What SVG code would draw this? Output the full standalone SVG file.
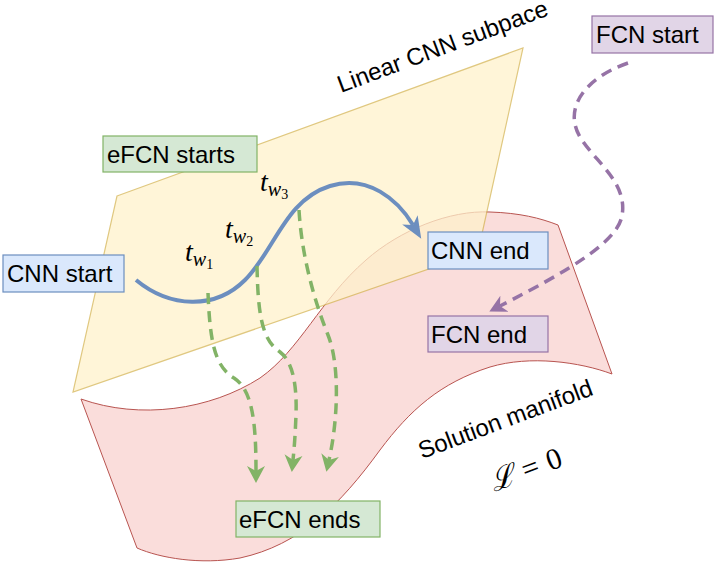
<svg xmlns="http://www.w3.org/2000/svg" width="720" height="568" viewBox="0 0 720 568">
<defs>
<style>
.lbl{font-family:"Liberation Sans",Arial,sans-serif;font-size:24px;fill:#000}
.blue{fill:#dae8fc;stroke:#6c8ebf;stroke-width:1.2}
.green{fill:#d5e8d4;stroke:#82b366;stroke-width:1.2}
.purple{fill:#e1d5e7;stroke:#9673a6;stroke-width:1.2}
.math{font-family:"Liberation Serif","DejaVu Serif",serif;font-style:italic;fill:#000}
.gd{fill:none;stroke:#82b366;stroke-width:3.5;stroke-dasharray:11 7}
</style>
<marker id="ab" markerUnits="userSpaceOnUse" markerWidth="24" markerHeight="20" viewBox="0 0 24 20" refX="6" refY="10" orient="auto">
<path d="M0,1 L22,10 L0,19 L6,10 Z" fill="#6c8ebf"/>
</marker>
<marker id="ag" markerUnits="userSpaceOnUse" markerWidth="18" markerHeight="20" viewBox="0 0 18 20" refX="5" refY="10" orient="auto">
<path d="M0,1 L17,10 L0,19 L5,10 Z" fill="#82b366"/>
</marker>
<marker id="ap" markerUnits="userSpaceOnUse" markerWidth="18" markerHeight="20" viewBox="0 0 18 20" refX="5" refY="10" orient="auto">
<path d="M0,1 L17,10 L0,19 L5,10 Z" fill="#9673a6"/>
</marker>
</defs>
<rect width="720" height="568" fill="#ffffff"/>
<g id="manifold">
<path d="M81,399 C140,420 210,410 260,378 C300,350 320,300 366,260 C400,230 450,210 490,212 C520,213 540,218 558,225 L612,374 C580,362 530,355 490,367 C440,383 410,410 380,450 C340,505 300,545 240,558 C200,565 160,558 137,548 Z" fill="#f8cecc" fill-opacity="0.7" stroke="#b85450" stroke-width="1"/>
</g>
<g id="subspace" opacity="0.75">
<path d="M117,196 L523,48 L478,252 L73,392 Z" fill="#fff2cc" stroke="#d6b656" stroke-width="1.2"/>
</g>
<text class="lbl" transform="translate(341,93) rotate(-20.5)">Linear CNN subpace</text>
<text class="lbl" transform="translate(422,459) rotate(-20.5)">Solution manifold</text>
<text class="math" font-size="30" transform="translate(494,492) rotate(-20.5)">ℒ<tspan font-style="normal" dx="9">=</tspan><tspan font-style="normal" dx="9">0</tspan></text>
<g id="connectors">
<path d="M136,280 C170,308 215,310 245,280 C275,250 285,200 330,186 C368,174 398,200 413,225" fill="none" stroke="#6c8ebf" stroke-width="4" marker-end="url(#ab)"/>
<path class="gd" d="M208,293 C210,340 214,366 234,378 C252,390 256,420 256,471" marker-end="url(#ag)"/>
<path class="gd" d="M257,266 C258,315 262,340 280,352 C293,362 297,385 296,415 C295,440 294,450 293,460" marker-end="url(#ag)"/>
<path class="gd" d="M299,210 C302,260 316,305 328,335 C340,365 338,420 329,460" marker-end="url(#ag)"/>
<path d="M628,63 C585,78 563,108 580,137 C595,162 628,182 622,216 C617,242 570,270 500,306" fill="none" stroke="#9673a6" stroke-width="3.5" stroke-dasharray="11 7" marker-end="url(#ap)"/>
</g>
<g id="tw1"><text class="math" x="185" y="261" font-size="28">t<tspan font-size="20" dy="5">w</tspan><tspan font-style="normal" font-size="14" dy="3">1</tspan></text></g>
<g id="tw2"><text class="math" x="225" y="238" font-size="28">t<tspan font-size="20" dy="5">w</tspan><tspan font-style="normal" font-size="14" dy="3">2</tspan></text></g>
<g id="tw3"><text class="math" x="260" y="191" font-size="28">t<tspan font-size="20" dy="5">w</tspan><tspan font-style="normal" font-size="14" dy="3">3</tspan></text></g>
<g id="efcn-starts"><rect class="green" x="103" y="136" width="154" height="36"/><text class="lbl" x="107" y="162.5">eFCN starts</text></g>
<g id="cnn-start"><rect class="blue" x="3" y="255" width="121" height="37"/><text class="lbl" x="7" y="282">CNN start</text></g>
<g id="cnn-end"><rect class="blue" x="428" y="232" width="120" height="37"/><text class="lbl" x="431" y="259">CNN end</text></g>
<g id="fcn-start"><rect class="purple" x="592" y="16" width="121" height="37"/><text class="lbl" x="596" y="43">FCN start</text></g>
<g id="fcn-end"><rect class="purple" x="428" y="316" width="120" height="36"/><text class="lbl" x="431" y="342.5">FCN end</text></g>
<g id="efcn-ends"><rect class="green" x="236" y="501" width="144" height="36"/><text class="lbl" x="239" y="527.5">eFCN ends</text></g>
</svg>
